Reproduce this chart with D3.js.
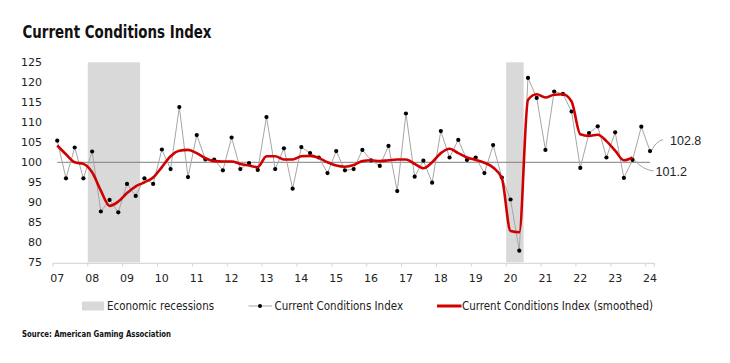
<!DOCTYPE html>
<html>
<head>
<meta charset="utf-8">
<script src="https://cdn.jsdelivr.net/npm/d3@7"></script>
<style>
  body { margin: 0; background: #fff; }
  .cond { font-family: "Liberation Sans Narrow", "Arial Narrow", "DejaVu Sans Condensed", "Roboto", sans-serif; }
  .axis text { font-family: "DejaVu Sans", "Liberation Sans", sans-serif; font-size: 11px; fill: #222; }
</style>
</head>
<body>
<div id="chart"></div>
<script>
// Year labels on the x axis (quarterly data, 2007Q1 - 2024Q1)
let years = ["07", "08", "09", "10", "11", "12", "13", "14", "15", "16", "17", "18", "19", "20", "21", "22", "23", "24"];

let quarters = [];
years.forEach(function(yr) {
  ["Q1", "Q2", "Q3", "Q4"].forEach(function(q) {
    if (yr === "24" && q !== "Q1") return;
    quarters.push(yr + q);
  });
});

// Current Conditions Index, quarterly
let indexValues = [
  105.4, 96.0, 103.7, 96.0,
  102.7, 87.7, 90.6, 87.5,
  94.6, 91.6, 96.0, 94.6,
  103.2, 98.3, 113.8, 96.3,
  106.8, 100.7, 100.7, 98.0,
  106.2, 98.3, 99.8, 98.1,
  111.3, 98.3, 103.5, 93.4,
  103.8, 102.3, 101.2, 97.3,
  102.8, 98.0, 98.3, 103.1,
  100.5, 99.1, 104.1, 92.8,
  112.2, 96.4, 100.4, 94.9,
  107.8, 101.2, 105.6, 100.6,
  101.2, 97.3, 104.3, 96.2,
  90.7, 77.9, 121.1, 116.1,
  103.1, 117.7, 117.1, 112.7,
  98.6, 107.3, 109.0, 101.2,
  107.5, 96.1, 100.6, 108.9,
  102.8
];

// Smoothed index (ends two quarters before the raw series)
let smoothedValues = [
  104.2, 102.0, 100.0, 99.6,
  97.5, 92.9, 89.1, 90.2,
  92.3, 94.0, 95.0, 96.2,
  98.8, 101.5, 102.9, 103.1,
  102.3, 101.0, 100.3, 100.2,
  100.2, 99.6, 99.2, 98.8,
  101.5, 101.5, 100.7, 100.7,
  101.5, 101.6, 101.1, 100.0,
  99.2, 98.9, 99.3, 100.3,
  100.5, 100.3, 100.5, 100.7,
  100.7, 99.6, 98.5, 100.0,
  102.3, 103.4, 102.3, 101.2,
  100.6, 99.9, 98.7, 96.0,
  82.8, 82.5, 115.6, 117.0,
  116.2, 116.9, 117.0, 115.2,
  107.0, 106.6, 106.9, 105.3,
  102.9, 100.5, 101.2
];

// Recession periods (first and last quarter)
let recessionStart = ["08Q1", "20Q1"];
let recessionEnd = ["09Q2", "20Q2"];

let yTicks = [75, 80, 85, 90, 95, 100, 105, 110, 115, 120, 125];

let svgWidth = 730;
let svgHeight = 363;

let svg = d3.select("#chart")
  .append("svg")
  .attr("width", svgWidth)
  .attr("height", svgHeight);

// scales
let x = d3.scaleBand()
  .domain(quarters)
  .range([52.9, 654.4])
  .padding(0);
let xc = d => x(d) + x.bandwidth() / 2;

let y = d3.scaleLinear()
  .domain([75, 125])
  .range([262.3, 62.3]);

// title
svg.append("text")
  .attr("class", "cond")
  .attr("x", 22.5)
  .attr("y", 38.3)
  .attr("font-size", 17)
  .attr("font-weight", "bold")
  .attr("textLength", 189)
  .attr("lengthAdjust", "spacingAndGlyphs")
  .attr("fill", "#111")
  .text("Current Conditions Index");

// recession shading
svg.append("g").selectAll("rect")
  .data(recessionStart)
  .enter()
  .append("rect")
  .attr("x", d => x(d))
  .attr("width", (d, i) => x(recessionEnd[i]) + x.bandwidth() - x(d))
  .attr("y", y(125))
  .attr("height", y(75) - y(125))
  .attr("fill", "#d9d9d9");

// 100 reference line
svg.append("line")
  .attr("x1", xc(quarters[0]))
  .attr("x2", xc(quarters[quarters.length - 1]))
  .attr("y1", y(100))
  .attr("y2", y(100))
  .attr("stroke", "#7f7f7f")
  .attr("stroke-width", 1);

// x axis
let q1s = quarters.filter(q => q.endsWith("Q1"));
let xAxis = svg.append("g")
  .attr("class", "axis")
  .attr("transform", `translate(0, ${y(75) + 1})`)
  .call(d3.axisBottom(x).tickValues(q1s).tickFormat(d => d.slice(0, 2)).tickSize(0).tickPadding(11));
xAxis.select(".domain").remove();

xAxis.append("line")
  .attr("x1", x.range()[0])
  .attr("x2", x.range()[1])
  .attr("stroke", "#d0d0d0");
xAxis.selectAll(".ytick")
  .data(q1s.concat(["end"]))
  .enter()
  .append("line")
  .attr("x1", d => d === "end" ? x.range()[1] : x(d))
  .attr("x2", d => d === "end" ? x.range()[1] : x(d))
  .attr("y1", 0)
  .attr("y2", 3)
  .attr("stroke", "#d0d0d0");

// y axis
let yAxis = svg.append("g")
  .attr("class", "axis")
  .attr("transform", "translate(45, 0)")
  .call(d3.axisLeft(y).tickValues(yTicks).tickSize(0).tickPadding(3));
yAxis.select(".domain").remove();

// raw index line
let rawLine = d3.line()
  .x((d, i) => xc(quarters[i]))
  .y(d => y(d));

svg.append("path")
  .datum(indexValues)
  .attr("d", rawLine)
  .attr("fill", "none")
  .attr("stroke", "#a6a6a6")
  .attr("stroke-width", 1);

svg.append("g").selectAll("circle")
  .data(indexValues)
  .enter()
  .append("circle")
  .attr("cx", (d, i) => xc(quarters[i]))
  .attr("cy", d => y(d))
  .attr("r", 2.1)
  .attr("fill", "#000");

// smoothed line
let smoothLine = d3.line()
  .x((d, i) => xc(quarters[i]))
  .y(d => y(d))
  .curve(d3.curveMonotoneX);

svg.append("path")
  .datum(smoothedValues)
  .attr("d", smoothLine)
  .attr("fill", "none")
  .attr("stroke", "#d00000")
  .attr("stroke-width", 2.6)
  .attr("stroke-linejoin", "round");

// end-of-series annotations
let lastRaw = indexValues[indexValues.length - 1];
let lastSmooth = smoothedValues[smoothedValues.length - 1];
let rx = xc(quarters[indexValues.length - 1]);
let ry = y(lastRaw);
let sx = xc(quarters[smoothedValues.length - 1]);
let sy = y(lastSmooth);

svg.append("path")
  .attr("d", `M${rx + 2},${ry - 1} Q${rx + 6},${ry - 10} ${rx + 13},${ry - 11.5}`)
  .attr("fill", "none")
  .attr("stroke", "#a6a6a6");
svg.append("path")
  .attr("d", `M${sx + 2},${sy + 3} Q${sx + 10},${sy + 12} ${sx + 21},${sy + 13.5}`)
  .attr("fill", "none")
  .attr("stroke", "#a6a6a6");

svg.append("text")
  .attr("x", rx + 20)
  .attr("y", ry - 6)
  .attr("font-family", "Liberation Sans, Arial, sans-serif")
  .attr("font-size", 12.5)
  .attr("fill", "#222")
  .text(lastRaw.toFixed(1));
svg.append("text")
  .attr("x", sx + 23)
  .attr("y", sy + 18.5)
  .attr("font-family", "Liberation Sans, Arial, sans-serif")
  .attr("font-size", 12.5)
  .attr("fill", "#222")
  .text(lastSmooth.toFixed(1));

// legend
let legend = svg.append("g").attr("transform", "translate(0, 306)");

legend.append("rect")
  .attr("x", 82).attr("y", -4.5)
  .attr("width", 22).attr("height", 9)
  .attr("fill", "#d9d9d9");
legend.append("text")
  .attr("class", "cond")
  .attr("x", 107).attr("y", 4.2)
  .attr("font-size", 12)
  .attr("textLength", 107)
  .attr("lengthAdjust", "spacingAndGlyphs")
  .attr("fill", "#222")
  .text("Economic recessions");

legend.append("line")
  .attr("x1", 248.5).attr("x2", 272)
  .attr("stroke", "#a6a6a6");
legend.append("circle")
  .attr("cx", 260).attr("r", 2)
  .attr("fill", "#000");
legend.append("text")
  .attr("class", "cond")
  .attr("x", 274.5).attr("y", 4.2)
  .attr("font-size", 12)
  .attr("textLength", 128.5)
  .attr("lengthAdjust", "spacingAndGlyphs")
  .attr("fill", "#222")
  .text("Current Conditions Index");

legend.append("line")
  .attr("x1", 437).attr("x2", 461.5)
  .attr("stroke", "#d00000")
  .attr("stroke-width", 3);
legend.append("text")
  .attr("class", "cond")
  .attr("x", 462).attr("y", 4.2)
  .attr("font-size", 12)
  .attr("textLength", 191)
  .attr("lengthAdjust", "spacingAndGlyphs")
  .attr("fill", "#222")
  .text("Current Conditions Index (smoothed)");

// source
svg.append("text")
  .attr("class", "cond")
  .attr("x", 22)
  .attr("y", 337)
  .attr("font-size", 9.5)
  .attr("font-weight", "bold")
  .attr("textLength", 149)
  .attr("lengthAdjust", "spacingAndGlyphs")
  .attr("fill", "#111")
  .text("Source: American Gaming Association");
</script>
</body>
</html>
